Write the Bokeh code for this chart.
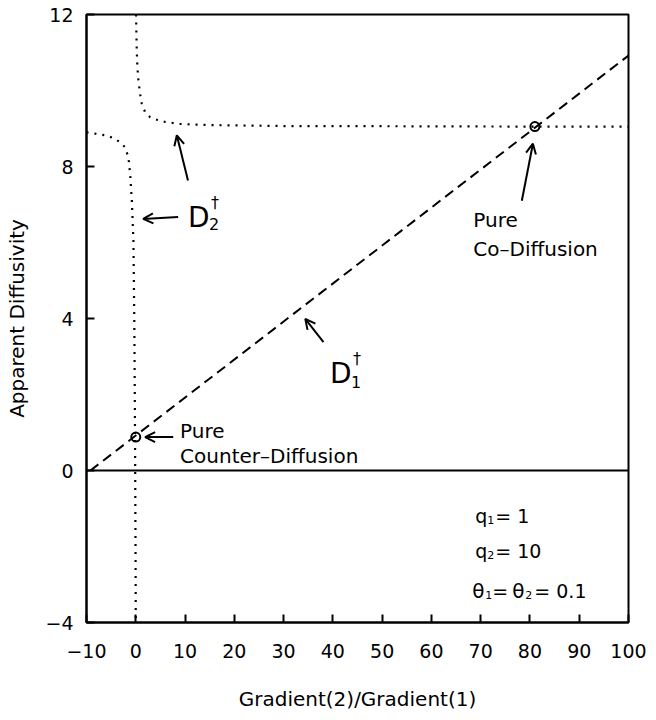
from bokeh.plotting import figure
from bokeh.models import Range1d, Span, Arrow, OpenHead, Label, FixedTicker
from bokeh.embed import file_html
from bokeh.resources import INLINE

# --- data -----------------------------------------------------------------
# apparent diffusivity of component 1 (straight line)
d1_x = [-9.2, 100]
d1_y = [0.0, 10.92]

# apparent diffusivity of component 2, branch for positive gradient ratio
d2_pos_x = [0.05, 0.2, 0.33, 0.54, 0.88, 1.22, 1.9, 2.9, 4.3, 5.6, 9.0, 15, 33, 50, 81, 100]
d2_pos_y = [12.0, 11.05, 10.61, 10.26, 9.91, 9.65, 9.43, 9.30, 9.23, 9.18, 9.12, 9.09, 9.06, 9.06, 9.05, 9.05]

# branch for negative gradient ratio
d2_neg_x = [-10, -8.9, -6.2, -4.5, -3.2, -2.2, -1.5, -1.15, -0.8, -0.48, -0.3, -0.15, -0.05, 0.0]
d2_neg_y = [8.90, 8.88, 8.82, 8.75, 8.64, 8.51, 8.25, 7.81, 7.11, 6.05, 4.0, 1.0, -2.0, -4.0]

# limiting cases: pure counter-diffusion and pure co-diffusion
limit_x = [0, 81]
limit_y = [0.88, 9.05]

x_ticks = [-10, 0, 10, 20, 30, 40, 50, 60, 70, 80, 90, 100]
y_ticks = [-4, 0, 4, 8, 12]

FONT = "DejaVu Sans"

p = figure(width=656, height=720,
           x_range=Range1d(-10, 100), y_range=Range1d(-4, 12),
           output_backend="svg", toolbar_location=None,
           min_border_left=86, min_border_right=28,
           min_border_top=14, min_border_bottom=98,
           x_axis_label="Gradient(2)/Gradient(1)",
           y_axis_label="Apparent Diffusivity")

p.xgrid.visible = False
p.ygrid.visible = False
p.outline_line_color = "black"
p.outline_line_width = 2
p.background_fill_color = "white"
p.border_fill_color = "white"

for ax in (p.xaxis[0], p.yaxis[0]):
    ax.axis_line_width = 2
    ax.axis_line_color = "black"
    ax.major_tick_in = 8
    ax.major_tick_out = 0
    ax.major_tick_line_width = 2
    ax.minor_tick_line_color = None
    ax.major_label_text_font = FONT
    ax.major_label_text_font_size = "19px"
    ax.major_label_text_color = "black"
    ax.axis_label_text_font = FONT
    ax.axis_label_text_font_size = "20px"
    ax.axis_label_text_font_style = "normal"
    ax.axis_label_text_color = "black"

p.xaxis.ticker = FixedTicker(ticks=x_ticks)
p.yaxis.ticker = FixedTicker(ticks=y_ticks)
p.xaxis.major_label_overrides = {t: str(t).replace("-", "\u2212") for t in x_ticks}
p.yaxis.major_label_overrides = {t: str(t).replace("-", "\u2212") for t in y_ticks}
p.xaxis.major_label_standoff = 21
p.yaxis.major_label_standoff = 13
p.xaxis.axis_label_standoff = 26
p.yaxis.axis_label_standoff = 13

# zero line
p.add_layout(Span(location=0, dimension="width", line_color="black", line_width=2))

# curves
p.line(d1_x, d1_y, line_color="black", line_width=2, line_dash="10 6")
p.line(d2_pos_x, d2_pos_y, line_color="black", line_width=2.2, line_dash="2 6")
p.line(d2_neg_x, d2_neg_y, line_color="black", line_width=2.2, line_dash="2 6")
p.scatter(limit_x, limit_y, marker="circle", size=9, fill_color=None,
          line_color="black", line_width=2)

# arrows pointing at the curves and limiting points
arrows = [
    (10.6, 7.63, 8.33, 8.82),
    (8.6, 6.67, 1.5, 6.62),
    (38.1, 3.38, 34.4, 3.99),
    (7.6, 0.88, 1.9, 0.88),
    (78.35, 7.1, 80.6, 8.6),
]
for xs, ys, xe, ye in arrows:
    p.add_layout(Arrow(x_start=xs, y_start=ys, x_end=xe, y_end=ye,
                       line_width=2, line_color="black",
                       end=OpenHead(size=10, line_width=2, line_color="black")))


def label(x, y, text, size, dx=0, dy=0):
    p.add_layout(Label(x=x, y=y, text=text, x_offset=dx, y_offset=dy,
                       text_font=FONT, text_font_size=f"{size}px",
                       text_color="black", text_baseline="alphabetic",
                       text_align="left"))


# curve names: D with subscript and dagger
label(10.62, 6.66, "D", 28)
label(10.62, 6.66, "2", 16, dx=21, dy=-7)
label(10.62, 6.66, "\u2020", 16, dx=23, dy=15)

label(39.4, 2.55, "D", 28)
label(39.4, 2.55, "1", 16, dx=21, dy=-8)
label(39.4, 2.55, "\u2020", 16, dx=23, dy=15)

# limiting-case captions
label(9.0, 1.05, "Pure", 20)
label(9.0, 0.39, "Counter\u2013Diffusion", 20)
label(68.5, 6.58, "Pure", 20)
label(68.5, 5.82, "Co\u2013Diffusion", 20)

# parameter block
label(68.9, -1.21, "q", 19)
label(68.9, -1.21, "1", 11, dx=12, dy=-4)
label(68.9, -1.21, "= 1", 19, dx=20)

label(68.9, -2.11, "q", 19)
label(68.9, -2.11, "2", 11, dx=12, dy=-4)
label(68.9, -2.11, "= 10", 19, dx=20)

label(68.3, -3.16, "\u03b8", 20)
label(68.3, -3.16, "1", 11, dx=13, dy=-4)
label(68.3, -3.16, "=", 19, dx=20)
label(68.3, -3.16, "\u03b8", 20, dx=40)
label(68.3, -3.16, "2", 11, dx=53, dy=-4)
label(68.3, -3.16, "= 0.1", 19, dx=62)

open("out.html", "w").write(file_html(p, INLINE))
